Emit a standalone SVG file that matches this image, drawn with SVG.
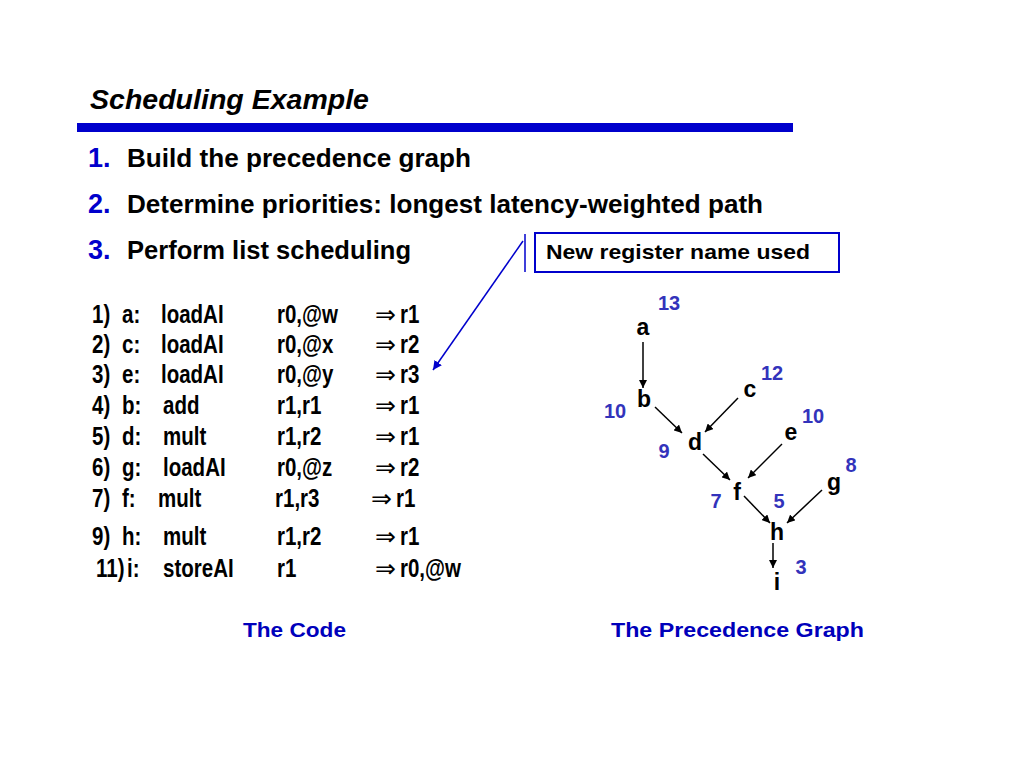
<svg xmlns="http://www.w3.org/2000/svg" width="1024" height="768" viewBox="0 0 1024 768">
<style>
.t{font-family:"Liberation Sans",Arial,sans-serif;font-weight:bold}
.title{font-family:"Liberation Sans",Arial,sans-serif;font-weight:bold;font-style:italic;font-size:28px;fill:#000}
.num{font-family:"Liberation Sans",Arial,sans-serif;font-weight:bold;font-size:27px;fill:#0000CC}
.head{font-family:"Liberation Sans",Arial,sans-serif;font-weight:bold;font-size:26px;fill:#000}
.code{font-family:"Liberation Sans",Arial,sans-serif;font-weight:bold;font-size:25px;fill:#000}
.sym{font-family:"DejaVu Sans",sans-serif;font-weight:normal;font-size:25px;fill:#000}
.cap{font-family:"Liberation Sans",Arial,sans-serif;font-weight:bold;font-size:20px;fill:#0000BB}
.node{font-family:"Liberation Sans",Arial,sans-serif;font-weight:bold;font-size:23px;fill:#000;text-anchor:middle}
.prio{font-family:"Liberation Sans",Arial,sans-serif;font-weight:bold;font-size:20px;fill:#3333BB;text-anchor:middle}
.edge{stroke:#000;stroke-width:1.5;fill:none;marker-end:url(#ah)}
</style>
<defs>
<marker id="ah" viewBox="0 0 10 10" refX="10" refY="5" markerWidth="8" markerHeight="8" markerUnits="userSpaceOnUse" orient="auto">
<path d="M0,0 L10,5 L0,10 z" fill="#000"/>
</marker>
<marker id="ahb" viewBox="0 0 10 10" refX="10" refY="5" markerWidth="9" markerHeight="9" markerUnits="userSpaceOnUse" orient="auto">
<path d="M0,0 L10,5 L0,10 z" fill="#0000CC"/>
</marker>
</defs>
<rect width="1024" height="768" fill="#fff"/>
<g id="header">
<text class="title" x="90" y="109" textLength="279" lengthAdjust="spacingAndGlyphs">Scheduling Example</text>
<rect x="77" y="123" width="716" height="9" fill="#0000CC"/>
<text class="num" x="88" y="167">1.</text>
<text class="head" x="127" y="167" textLength="344" lengthAdjust="spacingAndGlyphs">Build the precedence graph</text>
<text class="num" x="88" y="213">2.</text>
<text class="head" x="127" y="213" textLength="636" lengthAdjust="spacingAndGlyphs">Determine priorities: longest latency-weighted path</text>
<text class="num" x="88" y="259">3.</text>
<text class="head" x="127" y="259" textLength="284" lengthAdjust="spacingAndGlyphs">Perform list scheduling</text>
</g>
<g id="callout">
<rect x="535" y="233" width="304" height="39" fill="none" stroke="#0000CC" stroke-width="2"/>
<text class="t" x="546" y="259" font-size="21" textLength="264" lengthAdjust="spacingAndGlyphs">New register name used</text>
<line x1="525" y1="234" x2="525" y2="272" stroke="#0000CC" stroke-width="1.5"/>
<line x1="523" y1="241" x2="433" y2="370" stroke="#0000CC" stroke-width="1.5" marker-end="url(#ahb)"/>
</g>
<g id="code">
<g transform="scale(0.82 1)">
<text class="code" y="323"><tspan x="112.2">1)</tspan><tspan x="148.8">a:</tspan><tspan x="196.3">loadAI</tspan><tspan x="337.8">r0,@w</tspan><tspan x="487.8">r1</tspan></text>
<text class="code" y="353"><tspan x="112.2">2)</tspan><tspan x="148.8">c:</tspan><tspan x="196.3">loadAI</tspan><tspan x="337.8">r0,@x</tspan><tspan x="487.8">r2</tspan></text>
<text class="code" y="383"><tspan x="112.2">3)</tspan><tspan x="148.8">e:</tspan><tspan x="196.3">loadAI</tspan><tspan x="337.8">r0,@y</tspan><tspan x="487.8">r3</tspan></text>
<text class="code" y="414"><tspan x="112.2">4)</tspan><tspan x="148.8">b:</tspan><tspan x="198.8">add</tspan><tspan x="337.8">r1,r1</tspan><tspan x="487.8">r1</tspan></text>
<text class="code" y="445"><tspan x="112.2">5)</tspan><tspan x="148.8">d:</tspan><tspan x="198.8">mult</tspan><tspan x="337.8">r1,r2</tspan><tspan x="487.8">r1</tspan></text>
<text class="code" y="476"><tspan x="112.2">6)</tspan><tspan x="148.8">g:</tspan><tspan x="198.8">loadAI</tspan><tspan x="337.8">r0,@z</tspan><tspan x="487.8">r2</tspan></text>
<text class="code" y="507"><tspan x="112.2">7)</tspan><tspan x="148.8">f:</tspan><tspan x="192.7">mult</tspan><tspan x="335.4">r1,r3</tspan><tspan x="482.9">r1</tspan></text>
<text class="code" y="545"><tspan x="112.2">9)</tspan><tspan x="148.8">h:</tspan><tspan x="198.8">mult</tspan><tspan x="337.8">r1,r2</tspan><tspan x="487.8">r1</tspan></text>
<text class="code" y="577"><tspan x="117.1">11)</tspan><tspan x="154.9">i:</tspan><tspan x="198.8">storeAI</tspan><tspan x="337.8">r1</tspan><tspan x="487.8">r0,@w</tspan></text>
</g>
<text class="sym" x="375" y="323">⇒</text>
<text class="sym" x="375" y="353">⇒</text>
<text class="sym" x="375" y="383">⇒</text>
<text class="sym" x="375" y="414">⇒</text>
<text class="sym" x="375" y="445">⇒</text>
<text class="sym" x="375" y="476">⇒</text>
<text class="sym" x="371" y="507">⇒</text>
<text class="sym" x="375" y="545">⇒</text>
<text class="sym" x="375" y="577">⇒</text>
</g>
<g id="connectors">
<line class="edge" x1="643" y1="342" x2="643" y2="388"/>
<line class="edge" x1="655" y1="407" x2="682" y2="433"/>
<line class="edge" x1="738" y1="398" x2="705" y2="432"/>
<line class="edge" x1="703" y1="454" x2="730" y2="480"/>
<line class="edge" x1="782" y1="444" x2="748" y2="478"/>
<line class="edge" x1="744" y1="496" x2="770" y2="523"/>
<line class="edge" x1="822" y1="490" x2="787" y2="523"/>
<line class="edge" x1="773" y1="543" x2="773" y2="568"/>
</g>
<g id="node-a"><text class="node" x="643" y="335">a</text><text class="prio" x="669" y="310">13</text></g>
<g id="node-b"><text class="node" x="644" y="407">b</text><text class="prio" x="615" y="418">10</text></g>
<g id="node-c"><text class="node" x="750" y="397">c</text><text class="prio" x="772" y="380">12</text></g>
<g id="node-d"><text class="node" x="695" y="450">d</text><text class="prio" x="664" y="458">9</text></g>
<g id="node-e"><text class="node" x="791" y="440">e</text><text class="prio" x="813" y="423">10</text></g>
<g id="node-f"><text class="node" x="737" y="500">f</text><text class="prio" x="716" y="508">7</text><text class="prio" x="779" y="508">5</text></g>
<g id="node-g"><text class="node" x="834" y="490">g</text><text class="prio" x="851" y="472">8</text></g>
<g id="node-h"><text class="node" x="777" y="540">h</text></g>
<g id="node-i"><text class="node" x="777" y="590">i</text><text class="prio" x="801" y="574">3</text></g>
<g id="captions">
<text class="cap" x="243" y="637" textLength="103" lengthAdjust="spacingAndGlyphs">The Code</text>
<text class="cap" x="611" y="637" textLength="253" lengthAdjust="spacingAndGlyphs">The Precedence Graph</text>
</g>
</svg>
